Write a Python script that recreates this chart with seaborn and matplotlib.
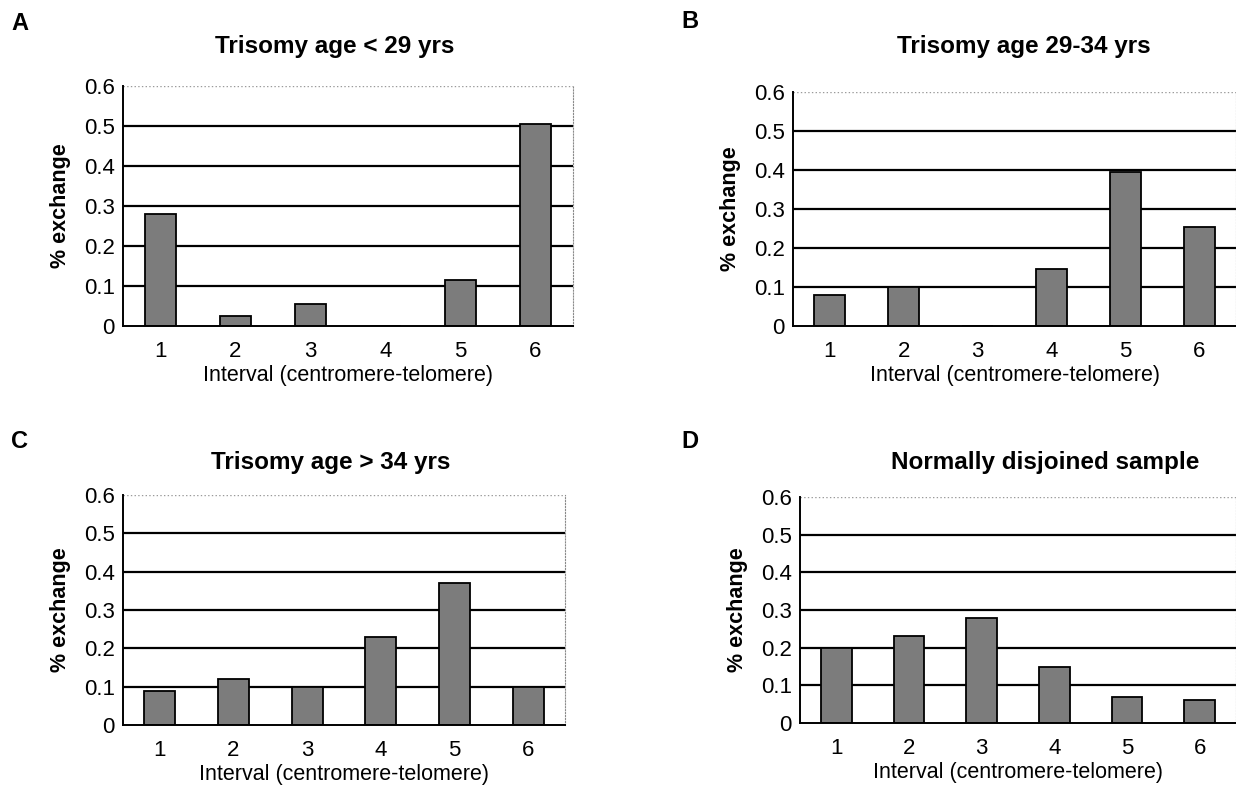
"""
Exchange frequency by interval, four panels (trisomy age groups + normal sample)
"""

import matplotlib
matplotlib.use('Agg')
import matplotlib.pyplot as plt
import seaborn as sns
import pandas as pd

# Data
intervals = ['1', '2', '3', '4', '5', '6']
age_under_29 = [0.28, 0.025, 0.055, 0.0, 0.115, 0.505]
age_29_34 = [0.08, 0.10, 0.0, 0.145, 0.395, 0.255]
age_over_34 = [0.09, 0.12, 0.10, 0.23, 0.37, 0.10]
normal_sample = [0.20, 0.23, 0.28, 0.15, 0.07, 0.06]

panel_letters = ['A', 'B', 'C', 'D']
panel_titles = ['Trisomy age < 29 yrs', 'Trisomy age 29-34 yrs',
                'Trisomy age > 34 yrs', 'Normally disjoined sample']
y_ticks = [0, 0.1, 0.2, 0.3, 0.4, 0.5, 0.6]
y_ticklabels = ['0', '0.1', '0.2', '0.3', '0.4', '0.5', '0.6']

sns.set_style('white')
plt.rcParams['font.family'] = ['Liberation Sans', 'DejaVu Sans']
plt.rcParams['text.color'] = 'black'
plt.rcParams['axes.labelcolor'] = 'black'
plt.rcParams['xtick.color'] = 'black'
plt.rcParams['ytick.color'] = 'black'

W, H = 1236, 789
fig = plt.figure(figsize=(W / 100, H / 100), dpi=100)

# axes boxes in pixels: left, right, top (0.6), bottom (0)
boxes = [
    (123, 573, 86, 326),
    (793, 1236, 92, 326),
    (123, 565, 495, 725),
    (800, 1236, 497, 723),
]
title_pos = [(335, 46), (1024, 46), (331, 462), (1045, 462)]
letter_pos = [(11, 24), (681, 22), (11, 441), (681, 441)]
series = [age_under_29, age_29_34, age_over_34, normal_sample]

for i in range(4):
    l, r, t, b = boxes[i]
    ax = fig.add_axes([l / W, 1 - b / H, (r - l) / W, (b - t) / H])
    df = pd.DataFrame({'interval': intervals, 'value': series[i]})

    # horizontal grid lines behind the bars
    for yv in y_ticks[1:-1]:
        ax.axhline(yv, color='black', lw=1.6, zorder=0)
    ax.axhline(0.6, color='#9a9a9a', lw=1.0, ls=':', zorder=0)

    sns.barplot(data=df, x='interval', y='value', color='#7c7c7c',
                edgecolor='black', linewidth=1.3, width=0.42,
                saturation=1, ax=ax, zorder=2)

    ax.set_xlim(-0.5, 5.5)
    ax.set_ylim(0, 0.6)
    ax.set_yticks(y_ticks)
    ax.set_yticklabels(y_ticklabels, fontsize=16)
    ax.tick_params(axis='y', direction='out', length=5, width=1.2, color='black', pad=1)

    # x ticks sit between categories
    ax.set_xticks(range(6))
    ax.set_xticklabels(intervals, fontsize=16)
    ax.set_xticks([k - 0.5 for k in range(7)], minor=True)
    ax.tick_params(axis='x', which='major', length=0, pad=11)
    ax.tick_params(axis='x', which='minor', direction='out', length=5,
                   width=1.2, color='black')

    ax.set_xlabel('Interval (centromere-telomere)', fontsize=15.5, labelpad=2)
    ax.set_ylabel('% exchange', fontsize=15.5, fontweight='bold', labelpad=9)

    for side in ['left', 'bottom']:
        ax.spines[side].set_color('black')
        ax.spines[side].set_linewidth(1.4)
    ax.spines['top'].set_visible(False)
    ax.spines['right'].set_color('#8a8a8a')
    ax.spines['right'].set_linewidth(0.8)
    ax.spines['right'].set_linestyle(':')

    tx, ty = title_pos[i]
    fig.text(tx / W, 1 - ty / H, panel_titles[i], fontsize=17.5,
             fontweight='bold', ha='center', va='center')
    lx, ly = letter_pos[i]
    fig.text(lx / W, 1 - ly / H, panel_letters[i], fontsize=17,
             fontweight='bold', ha='left', va='center')

fig.savefig('out.png', dpi=100, facecolor='white')
